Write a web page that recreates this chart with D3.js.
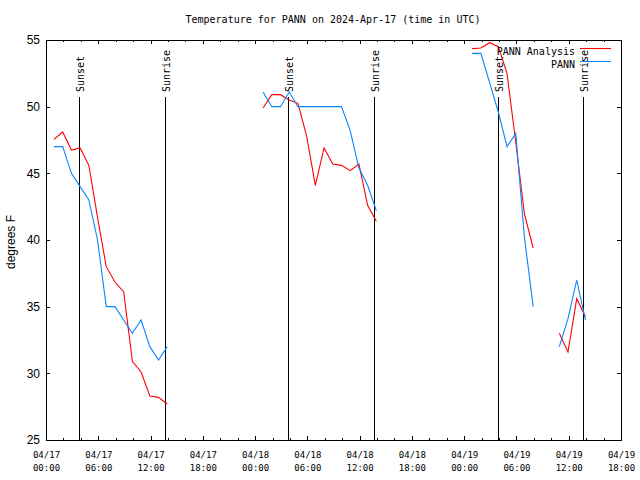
<!DOCTYPE html>
<html><head><meta charset="utf-8">
<script src="https://cdn.jsdelivr.net/npm/d3@7/dist/d3.min.js"></script>
<style>body{margin:0;background:#fff}</style>
</head><body><svg id="c" width="640" height="480"></svg>
<script>
// ---- data ----
const times = [
  "2024-04-17T00:55Z","2024-04-17T01:55Z","2024-04-17T02:55Z","2024-04-17T03:55Z","2024-04-17T04:55Z",
  "2024-04-17T05:55Z","2024-04-17T06:55Z","2024-04-17T07:55Z","2024-04-17T08:55Z","2024-04-17T09:55Z",
  "2024-04-17T10:55Z","2024-04-17T11:55Z","2024-04-17T12:55Z","2024-04-17T13:55Z",
  "2024-04-18T00:55Z","2024-04-18T01:55Z","2024-04-18T02:55Z","2024-04-18T03:55Z","2024-04-18T04:55Z",
  "2024-04-18T05:55Z","2024-04-18T06:55Z","2024-04-18T07:55Z","2024-04-18T08:55Z","2024-04-18T09:55Z",
  "2024-04-18T10:55Z","2024-04-18T11:55Z","2024-04-18T12:55Z","2024-04-18T13:55Z",
  "2024-04-19T00:55Z","2024-04-19T01:55Z","2024-04-19T02:55Z","2024-04-19T03:55Z","2024-04-19T04:55Z",
  "2024-04-19T05:55Z","2024-04-19T06:55Z","2024-04-19T07:55Z",
  "2024-04-19T10:55Z","2024-04-19T11:55Z","2024-04-19T12:55Z","2024-04-19T13:55Z"
];
const analysis = [
  47.55, 48.1, 46.75, 46.9, 45.6, 41.7, 38.0, 36.85, 36.1, 30.9, 30.1, 28.3, 28.2, 27.7,
  49.9, 50.9, 50.9, 50.5, 50.25, 47.8, 44.1, 46.9, 45.7, 45.6, 45.2, 45.7, 42.6, 41.4,
  54.35, 54.4, 54.8, 54.5, 52.5, 47.35, 41.95, 39.4,
  33.0, 31.6, 35.6, 34.25
];
const observed = [
  47, 47, 45, 44, 43, 40, 35, 35, 34, 33, 34, 32, 31, 32,
  51.1, 50, 50, 51.1, 50, 50, 50, 50, 50, 50, 48.2, 45.4, 44.1, 42.2,
  54, 54, 51.8, 49.6, 47, 48, 40.2, 35,
  32, 34.1, 37, 34
];
const sunTimes = ["2024-04-17T03:50Z","2024-04-17T13:42Z","2024-04-18T03:50Z","2024-04-18T13:42Z","2024-04-19T03:54Z","2024-04-19T13:40Z"];
const sunLabels = ["Sunset","Sunrise","Sunset","Sunrise","Sunset","Sunrise"];
const seriesNames = ["PANN Analysis","PANN"];
const seriesColors = ["#ff0000","#0a84ff"];
const yTickValues = [25,30,35,40,45,50,55];
const titleText = "Temperature for PANN on 2024-Apr-17 (time in UTC)";
const yLabel = "degrees F";

// ---- chart ----
const svg = d3.select("#c");
const L = 46, R = 621, T = 40, B = 440;
const x = d3.scaleUtc().domain([new Date("2024-04-17T00:00Z"), new Date("2024-04-19T18:00Z")]).range([L, R]);
const y = d3.scaleLinear().domain([25, 55]).range([B, T]);
const mono = "'DejaVu Sans Mono', monospace";
const sans = "'Liberation Sans', Arial, sans-serif";

svg.append("rect").attr("width",640).attr("height",480).attr("fill","#fff");

// title
svg.append("text").attr("x", 333).attr("y", 23).attr("text-anchor","middle")
  .attr("font-family", mono).attr("font-size", 10).text(titleText);

// axes
const fmtD = d3.utcFormat("%m/%d"), fmtH = d3.utcFormat("%H:%M");
const gx = svg.append("g").attr("transform",`translate(0,${B})`)
  .call(d3.axisBottom(x).ticks(d3.utcHour.every(6)).tickSizeInner(-4).tickSizeOuter(0).tickFormat(d => fmtD(d)+"|"+fmtH(d)));
gx.selectAll(".tick text").each(function(){
  const s = d3.select(this).text().split("|");
  const t = d3.select(this).text(null).attr("y", 0).attr("dy", null)
    .attr("font-family", mono).attr("font-size", 9);
  t.append("tspan").attr("x",0).attr("y",18).text(s[0]);
  t.append("tspan").attr("x",0).attr("y",31).text(s[1]);
});
const gxm = svg.append("g").attr("transform",`translate(0,${B})`)
  .call(d3.axisBottom(x).ticks(d3.utcHour.every(2)).tickSizeInner(-2).tickSizeOuter(0).tickFormat(""));
const gxt = svg.append("g").attr("transform",`translate(0,${T})`)
  .call(d3.axisTop(x).ticks(d3.utcHour.every(6)).tickSizeInner(-4).tickSizeOuter(0).tickFormat(""));
const gxtm = svg.append("g").attr("transform",`translate(0,${T})`)
  .call(d3.axisTop(x).ticks(d3.utcHour.every(2)).tickSizeInner(-2).tickSizeOuter(0).tickFormat(""));
const gy = svg.append("g").attr("transform",`translate(${L},0)`)
  .call(d3.axisLeft(y).tickValues(yTickValues).tickSizeInner(-4).tickSizeOuter(0).tickPadding(6));
gy.selectAll(".tick text").attr("font-family", sans).attr("font-size", 12);
const gyr = svg.append("g").attr("transform",`translate(${R},0)`)
  .call(d3.axisRight(y).tickValues(yTickValues).tickSizeInner(-4).tickSizeOuter(0).tickFormat(""));
svg.selectAll(".domain").remove();
svg.selectAll(".tick line").attr("stroke","#000").attr("shape-rendering","crispEdges");
svg.selectAll(".tick text").attr("fill","#000");

// frame
svg.append("rect").attr("x",L+0.5).attr("y",T+0.5).attr("width",R-L).attr("height",B-T)
  .attr("fill","none").attr("stroke","#000").attr("shape-rendering","crispEdges");

// y label
svg.append("text").attr("transform","translate(15,242) rotate(-90)").attr("text-anchor","middle")
  .attr("font-family", sans).attr("font-size", 12).text(yLabel);

// sunrise/sunset
sunTimes.forEach((s,i) => {
  const px = Math.round(x(new Date(s))) + 0.5;
  svg.append("line").attr("x1",px).attr("x2",px).attr("y1",97).attr("y2",B)
    .attr("stroke","#000").attr("shape-rendering","crispEdges");
  svg.append("text").attr("transform",`translate(${px+4},92) rotate(-90)`)
    .attr("font-family", mono).attr("font-size", 10).text(sunLabels[i]);
});

// series
function segments(vals){
  const pts = times.map((t,i)=>({t:new Date(t), v:vals[i]}));
  const segs = []; let cur = [];
  pts.forEach((p,i)=>{
    if (i>0 && (p.t - pts[i-1].t) > 1.5*3600e3) { segs.push(cur); cur = []; }
    cur.push(p);
  });
  segs.push(cur);
  return segs;
}
const line = d3.line().x(d=>x(d.t)).y(d=>y(d.v));
[analysis, observed].forEach((vals,k) => {
  segments(vals).forEach(seg => {
    svg.append("path").attr("d", line(seg)).attr("fill","none")
      .attr("stroke", seriesColors[k]).attr("stroke-width",1.1);
  });
});

// legend
seriesNames.forEach((n,k) => {
  const ly = 48.5 + k*13;
  svg.append("text").attr("x",575).attr("y",ly+6).attr("text-anchor","end")
    .attr("font-family", mono).attr("font-size", 10).text(n);
  svg.append("line").attr("x1",580).attr("x2",611).attr("y1",ly).attr("y2",ly)
    .attr("stroke", seriesColors[k]).attr("stroke-width",1.1);
});
</script></body></html>
